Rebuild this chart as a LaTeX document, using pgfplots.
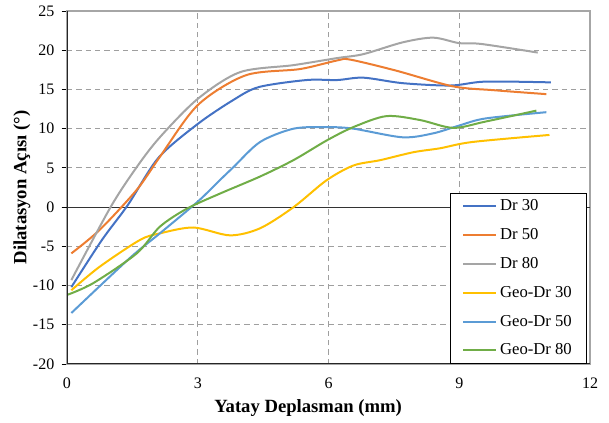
\documentclass[border=0pt]{standalone}
\usepackage{pgfplots}
\pgfplotsset{compat=1.18}
\usepackage{fontspec}
\setmainfont{Liberation Serif}
\definecolor{c1}{HTML}{4472C4}
\definecolor{c2}{HTML}{ED7D31}
\definecolor{c3}{HTML}{A5A5A5}
\definecolor{c4}{HTML}{FFC000}
\definecolor{c5}{HTML}{5B9BD5}
\definecolor{c6}{HTML}{70AD47}
\begin{document}
\begin{tikzpicture}
\path[use as bounding box] (-50.25pt,-44.25pt) rectangle (406.5pt,273pt);
\begin{axis}[
  at={(0,0)}, anchor=south west,
  scale only axis, width=392.25pt, height=264.75pt,
  xmin=0, xmax=12, ymin=-20, ymax=25,
  xtick={0,3,6,9,12}, ytick={-20,-15,...,25},
  /pgf/number format/assume math mode=true,
  tick label style={font=\fontsize{12}{14}\selectfont},
  grid=major,
  major grid style={dashed, gray!75, line width=0.6pt, dash pattern=on 4pt off 3pt},
  axis line style={gray!70, line width=1pt},
  ytick pos=left, xtick pos=bottom,
  tick align=outside,
  major tick length=4pt,
  x tick style={draw=none},
  y tick style={black, line width=0.6pt},
  xticklabel style={yshift=-3pt},
  yticklabel style={xshift=-2pt},
  extra y ticks={0}, extra y tick labels={},
  extra y tick style={grid=major, major grid style={solid, black!80, line width=0.8pt}},
  xlabel={\bfseries Yatay Deplasman (mm)},
  ylabel={\bfseries Dilatasyon Açısı (°)},
  xlabel style={font=\fontsize{14}{16}\selectfont, at={(axis description cs:0.461,0)}, anchor=center, yshift=-33pt},
  ylabel style={font=\fontsize{14}{16}\selectfont, at={(axis description cs:0,0.5)}, anchor=center, xshift=-0pt, yshift=33.75pt},
  legend style={font=\fontsize{12.5}{14}\selectfont, at={(rel axis cs:0.994,0)}, anchor=south east,
    draw=black, line width=0.6pt, row sep=7.8pt, inner xsep=9pt, inner ysep=3pt, legend cell align=left},
  legend image code/.code={\draw[#1, line width=1.5pt] (0pt,0pt) -- (25pt,0pt);},
  every axis plot/.append style={line width=1.5pt, smooth, tension=0.5, no markers},
]
\addplot[c1] coordinates {(0.1,-10.2)(0.8,-4.2)(1.4,0.3)(2.1,6.3)(3.0,10.6)(3.8,13.6)(4.4,15.3)(5.5,16.2)(6.2,16.2)(6.8,16.5)(7.7,15.8)(8.8,15.5)(9.6,16.0)(11.1,15.9)};
\addlegendentry{Dr 30}
\addplot[c2] coordinates {(0.1,-5.9)(0.75,-2.9)(1.6,2.2)(2.13,6.4)(3.0,13.0)(4.1,16.8)(5.35,17.6)(6.2,18.7)(6.5,18.8)(7.55,17.4)(8.85,15.4)(9.8,14.9)(11.0,14.4)};
\addlegendentry{Dr 50}
\addplot[c3] coordinates {(0.1,-9.3)(1.0,0)(1.6,5.1)(2.13,8.9)(3.0,13.8)(3.97,17.2)(5.2,18.1)(6.2,19.0)(6.8,19.5)(7.7,21.0)(8.4,21.6)(9.0,20.9)(9.5,20.8)(10.8,19.7)};
\addlegendentry{Dr 80}
\addplot[c4] coordinates {(0.1,-10.6)(0.75,-7.6)(1.67,-4.2)(2.13,-3.35)(2.9,-2.6)(3.74,-3.6)(4.43,-2.7)(5.2,0)(5.95,3.4)(6.57,5.3)(7.2,6.0)(7.95,7.0)(8.56,7.5)(9.3,8.3)(11.07,9.2)};
\addlegendentry{Geo-Dr 30}
\addplot[c5] coordinates {(0.1,-13.5)(1.44,-6.5)(2.13,-3.35)(3.0,0.7)(3.5,3.4)(3.82,5.1)(4.43,8.3)(5.2,10.0)(5.96,10.2)(6.57,10.0)(7.7,8.9)(8.4,9.4)(9.0,10.4)(9.6,11.3)(11.0,12.1)};
\addlegendentry{Geo-Dr 50}
\addplot[c6] coordinates {(0.0,-11.2)(0.6,-9.7)(1.6,-5.9)(2.13,-2.5)(2.75,-0.2)(3.5,1.7)(4.43,3.9)(5.2,6.0)(5.96,8.5)(6.57,10.2)(7.33,11.6)(8.1,11.1)(8.86,10.1)(9.6,10.9)(10.77,12.3)};
\addlegendentry{Geo-Dr 80}
\draw[black!85, line width=0.8pt] (rel axis cs:0,0) -- (rel axis cs:0,1);
\draw[black!85, line width=0.8pt] (rel axis cs:0,0) -- (rel axis cs:1,0);
\end{axis}
\end{tikzpicture}
\end{document}
